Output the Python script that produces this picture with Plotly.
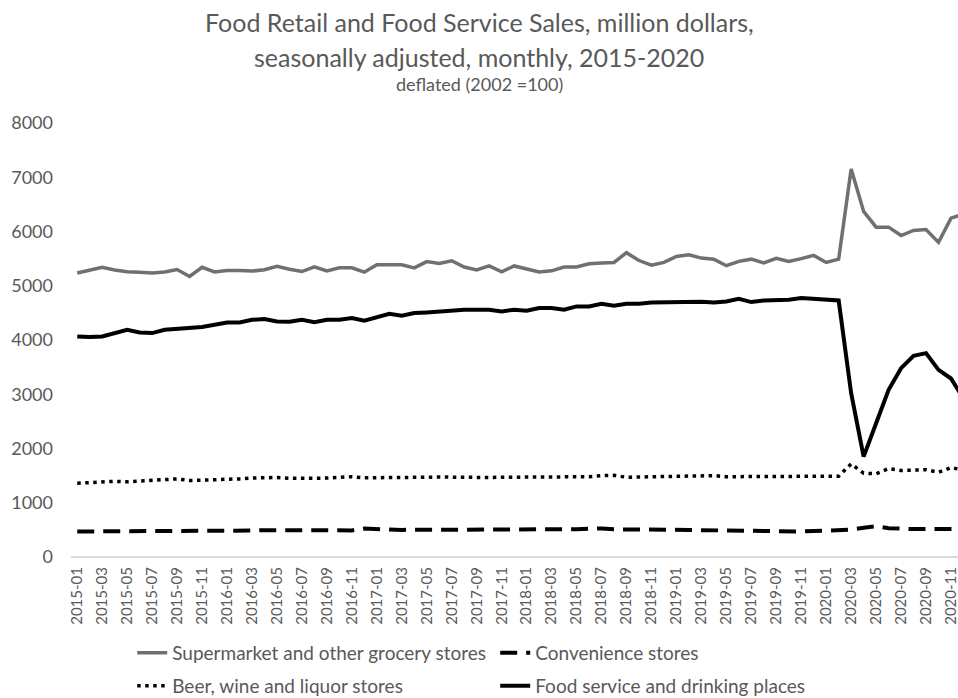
import plotly.graph_objects as go

# Monthly categories 2015-01 .. 2020-12
months = [f"{y}-{m:02d}" for y in range(2015, 2021) for m in range(1, 13)]
tick_labels = months[::2]

supermarket = [
    5234, 5280, 5340, 5290, 5260, 5250, 5234, 5255, 5300, 5172, 5340, 5255,
    5283, 5283, 5270, 5296, 5360, 5305, 5262, 5350, 5275, 5330, 5330, 5250,
    5385, 5385, 5385, 5330, 5445, 5410, 5460, 5345, 5290, 5365, 5255, 5365,
    5310, 5255, 5275, 5345, 5345, 5405, 5418, 5430, 5610, 5465, 5380, 5430,
    5540, 5570, 5510, 5490, 5370, 5450, 5490, 5420, 5505, 5450, 5500, 5560,
    5430, 5490, 7150, 6370, 6080, 6080, 5925, 6020, 6035, 5800, 6245, 6320,
]

convenience = [
    470, 470, 475, 478, 478, 478, 478, 480, 482, 478, 485, 485,
    480, 478, 488, 495, 490, 488, 495, 495, 488, 482, 490, 525,
    510, 505, 500, 500, 500, 500, 502, 505, 500, 498, 498, 498,
    498, 498, 502, 510, 512, 520, 525, 510, 510, 515, 512, 505,
    502, 500, 495, 490, 485, 485, 480, 480, 475, 470, 470, 480,
    488, 495, 502, 540, 570, 530, 518, 515, 515, 518, 520, 518,
]

beer_wine = [
    1360, 1375, 1390, 1395, 1385, 1400, 1410, 1425, 1440, 1410, 1415, 1420,
    1430, 1440, 1455, 1460, 1465, 1450, 1445, 1450, 1455, 1470, 1480, 1460,
    1460, 1465, 1455, 1460, 1470, 1475, 1470, 1475, 1470, 1465, 1470, 1470,
    1475, 1470, 1470, 1480, 1475, 1480, 1500, 1505, 1470, 1475, 1480, 1475,
    1480, 1480, 1490, 1500, 1480, 1480, 1485, 1480, 1480, 1480, 1485, 1485,
    1490, 1490, 1716, 1545, 1535, 1630, 1595, 1605, 1610, 1560, 1650, 1600,
]

food_service = [
    4065, 4053, 4065, 4127, 4188, 4139, 4127, 4188, 4200, 4213, 4238, 4280,
    4323, 4323, 4373, 4385, 4342, 4336, 4373, 4330, 4373, 4373, 4404, 4354,
    4422, 4483, 4446, 4496, 4508, 4526, 4539, 4557, 4557, 4557, 4526, 4557,
    4539, 4588, 4588, 4557, 4619, 4619, 4668, 4631, 4668, 4668, 4690, 4693,
    4711, 4711, 4705, 4693, 4711, 4760, 4699, 4730, 4742, 4742, 4773, 4760,
    4730, 4730, 3020, 1850, 2466, 3081, 3481, 3708, 3758, 3450, 3290, 2920,
]

TEXT = "#595959"
FONT = "Lato"

fig = go.Figure()
fig.add_trace(go.Scatter(
    x=months, y=supermarket, mode="lines",
    name="Supermarket and other grocery stores",
    line=dict(color="#707070", width=3.5), legend="legend",
))
fig.add_trace(go.Scatter(
    x=months, y=convenience, mode="lines",
    name="Convenience stores",
    line=dict(color="#000000", width=4, dash="17px,9px"), legend="legend",
))
fig.add_trace(go.Scatter(
    x=months, y=beer_wine, mode="lines",
    name="Beer, wine and liquor stores",
    line=dict(color="#000000", width=3.5, dash="3.5px,4.5px"), legend="legend2",
))
fig.add_trace(go.Scatter(
    x=months, y=food_service, mode="lines",
    name="Food service and drinking places",
    line=dict(color="#000000", width=4), legend="legend2",
))

legend_common = dict(
    orientation="h", xanchor="left", yanchor="middle",
    entrywidth=318, entrywidthmode="pixels",
    font=dict(family=FONT, size=19, color=TEXT),
    bgcolor="rgba(0,0,0,0)", borderwidth=0, itemwidth=30,
)

fig.update_layout(
    width=958, height=698,
    margin=dict(l=71, r=0, t=123, b=141, autoexpand=False),
    paper_bgcolor="white", plot_bgcolor="white",
    font=dict(family=FONT, color=TEXT),
    showlegend=True,
    legend=dict(x=0.069, y=(557 - 653) / 434, **legend_common),
    legend2=dict(x=0.069, y=(557 - 686) / 434, **legend_common),
    xaxis=dict(
        type="category", range=[-0.5, 70.56],
        tickmode="array", tickvals=tick_labels, ticktext=tick_labels,
        tickangle=-90, tickfont=dict(family=FONT, size=15, color=TEXT),
        showgrid=False, showline=False, zeroline=False, ticks="",
        ticklabelstandoff=6, automargin=False,
    ),
    yaxis=dict(
        range=[0, 8000], tickvals=list(range(0, 8001, 1000)),
        tickfont=dict(family=FONT, size=18, color=TEXT),
        showgrid=False, zeroline=True, zerolinecolor="#d9d9d9", zerolinewidth=1.5,
        showline=False, ticks="", ticklabelstandoff=17, automargin=False,
    ),
    annotations=[
        dict(text="Food Retail and Food Service Sales, million dollars,",
             xref="paper", yref="paper", x=0.46, y=(557 - 22) / 434,
             xanchor="center", yanchor="middle", showarrow=False,
             font=dict(family=FONT, size=25, color=TEXT)),
        dict(text="seasonally adjusted, monthly, 2015-2020",
             xref="paper", yref="paper", x=0.46, y=(557 - 57) / 434,
             xanchor="center", yanchor="middle", showarrow=False,
             font=dict(family=FONT, size=25, color=TEXT)),
        dict(text="deflated (2002 =100)",
             xref="paper", yref="paper", x=0.46, y=(557 - 84) / 434,
             xanchor="center", yanchor="middle", showarrow=False,
             font=dict(family=FONT, size=18, color=TEXT)),
    ],
)

fig.write_html("out.html")
